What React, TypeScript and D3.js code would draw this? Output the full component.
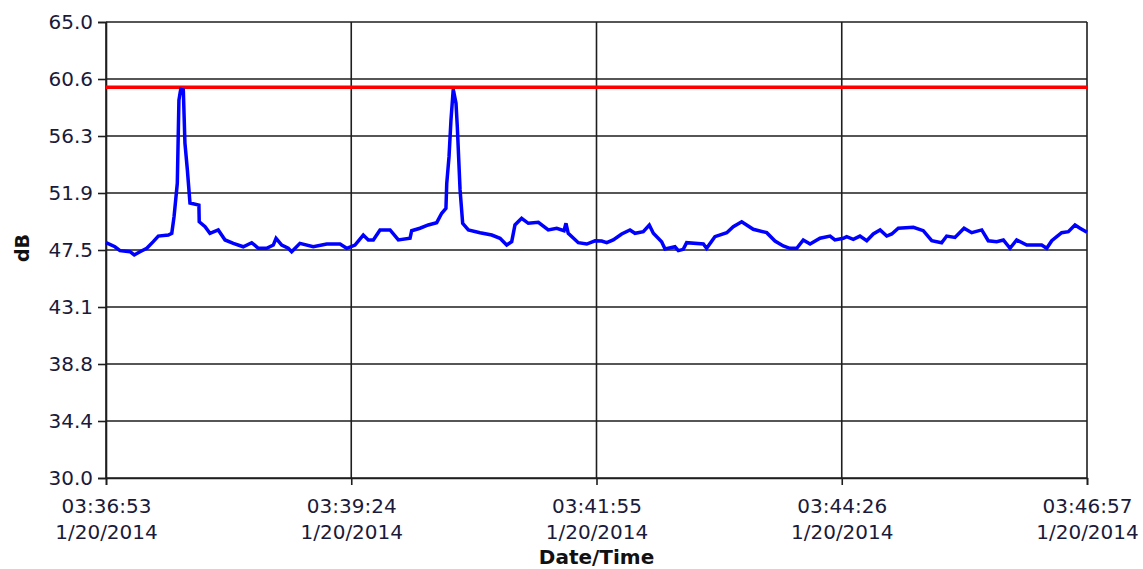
import React, { useRef, useEffect } from 'react';
import * as d3 from 'd3';

const seconds = [0, 5.5, 8.6, 14.8, 17.4, 20.9, 25.1, 29.1, 32.2, 38.4, 40.5, 41.9, 43.9, 44.9, 46.0, 47.6, 48.6, 50.1, 51.7, 57.2,
    57.4, 61.0, 64.0, 69.1, 73.3, 78.4, 84.5, 89.7, 93.8, 98.9, 103.0, 104.7, 108.2, 112.2, 114.3, 119.4, 127.6, 135.9, 144.1, 148.2,
    153.3, 158.4, 161.5, 164.6, 168.7, 174.9, 180.0, 187.2, 188.2, 193.3, 198.4, 203.6, 206.7, 209.3, 209.8, 211.2, 212.4, 213.8, 215.5, 216.3,
    218.0, 219.6, 223.1, 230.3, 237.5, 242.6, 246.7, 249.8, 251.8, 255.9, 260.0, 266.2, 272.3, 277.5, 282.0, 283.2, 284.6, 290.8, 296.0, 301.1,
    305.2, 308.3, 312.3, 317.5, 322.6, 325.7, 330.8, 334.5, 337.0, 342.1, 344.2, 350.3, 352.4, 355.4, 357.5, 367.8, 369.8, 374.9, 382.2, 386.2,
    391.4, 398.5, 406.8, 411.9, 417.0, 421.1, 425.3, 429.3, 433.5, 439.6, 445.8, 448.8, 454.0, 456.0, 460.1, 464.2, 468.4, 472.4, 476.6, 480.7,
    483.8, 487.8, 497.1, 503.2, 508.4, 514.5, 517.6, 522.7, 528.3, 533.0, 539.2, 543.2, 548.4, 552.5, 556.6, 560.7, 566.9, 576.1, 579.2, 582.3,
    588.4, 592.5, 596.6, 599.7, 604];
const levels = [48.06, 47.75, 47.45, 47.37, 47.12, 47.37, 47.63, 48.14, 48.57, 48.65, 48.78, 50.06, 52.62, 59.01, 59.84, 59.78, 55.71, 53.64, 51.11, 50.95,
    49.67, 49.29, 48.78, 49.04, 48.27, 48.01, 47.75, 48.06, 47.63, 47.63, 47.88, 48.40, 47.88, 47.63, 47.37, 48.01, 47.75, 47.96, 47.96, 47.63,
    47.88, 48.65, 48.27, 48.27, 49.04, 49.04, 48.27, 48.40, 48.98, 49.17, 49.42, 49.60, 50.32, 50.70, 52.62, 54.66, 57.48, 59.84, 58.76, 56.96,
    52.11, 49.55, 49.04, 48.83, 48.65, 48.40, 47.88, 48.14, 49.42, 49.93, 49.55, 49.63, 49.04, 49.17, 48.98, 49.55, 48.78, 48.06, 47.96, 48.21,
    48.19, 48.06, 48.27, 48.73, 49.04, 48.78, 48.91, 49.42, 48.78, 48.14, 47.58, 47.75, 47.45, 47.55, 48.06, 47.96, 47.63, 48.52, 48.83, 49.29,
    49.67, 49.09, 48.83, 48.19, 47.81, 47.63, 47.63, 48.27, 47.96, 48.40, 48.57, 48.27, 48.40, 48.52, 48.32, 48.57, 48.21, 48.73, 49.04, 48.57,
    48.73, 49.17, 49.24, 48.98, 48.21, 48.06, 48.57, 48.47, 49.17, 48.83, 49.04, 48.21, 48.14, 48.27, 47.63, 48.27, 47.88, 47.88, 47.63, 48.21,
    48.83, 48.91, 49.42, 49.17, 48.86];

const limitLevel = 60.0;
const yTicks = [30.0, 34.375, 38.75, 43.125, 47.5, 51.875, 56.25, 60.625, 65.0];
const tickStepSeconds = 151;
const tickCount = 5;
const startTime = new Date(2014, 0, 20, 3, 36, 53);

const W = 1143, H = 569;
const margin = { top: 22, right: 56, bottom: 91, left: 106 };
const font = '"DejaVu Sans", Verdana, sans-serif';

const App = () => {
    const ref = useRef(null);
    const width = W - margin.left - margin.right;
    const height = H - margin.top - margin.bottom;

    useEffect(() => {
        const g = d3.select(ref.current);
        g.selectAll('*').remove();

        const xTicks = d3.range(tickCount).map(i => new Date(startTime.getTime() + i * tickStepSeconds * 1000));
        const xScale = d3.scaleTime()
            .domain([xTicks[0], xTicks[xTicks.length - 1]])
            .range([0, width]);
        const yScale = d3.scaleLinear()
            .domain([30, 65])
            .range([height, 0]);

        const data = seconds.map((s, i) => ({ t: new Date(startTime.getTime() + s * 1000), v: levels[i] }));

        // grid
        g.append('g').selectAll('line.h')
            .data(yTicks)
            .enter().append('line')
            .attr('x1', 0).attr('x2', width)
            .attr('y1', d => yScale(d)).attr('y2', d => yScale(d))
            .attr('stroke', '#1e1e1e').attr('stroke-width', 1.6);
        g.append('g').selectAll('line.v')
            .data(xTicks)
            .enter().append('line')
            .attr('x1', d => xScale(d)).attr('x2', d => xScale(d))
            .attr('y1', 0).attr('y2', height)
            .attr('stroke', '#1e1e1e').attr('stroke-width', 1.6);

        // axes
        const fmtTime = d3.timeFormat('%H:%M:%S');
        const fmtDate = d3.timeFormat('%-m/%d/%Y');
        const xAxis = g.append('g')
            .attr('transform', 'translate(0,' + height + ')')
            .call(d3.axisBottom(xScale).tickValues(xTicks).tickSize(7).tickPadding(17).tickFormat(() => ''));
        xAxis.selectAll('.tick text').each(function (d) {
            const t = d3.select(this);
            t.append('tspan').attr('x', 0).attr('dy', '0.55em').text(fmtTime(d));
            t.append('tspan').attr('x', 0).attr('dy', '1.32em').text(fmtDate(d));
        });
        const yAxis = g.append('g')
            .call(d3.axisLeft(yScale).tickValues(yTicks).tickSize(8).tickPadding(5).tickFormat(d3.format('.1f')));
        [xAxis, yAxis].forEach(a => {
            a.select('.domain').attr('stroke', '#1e1e1e').attr('stroke-width', 1.6);
            a.selectAll('.tick line').attr('stroke', '#1e1e1e').attr('stroke-width', 1.6);
            a.selectAll('.tick text').attr('fill', '#1a1a3a').style('font-family', font).style('font-size', '20px');
        });

        // limit line
        g.append('line')
            .attr('x1', 0).attr('x2', width)
            .attr('y1', yScale(limitLevel)).attr('y2', yScale(limitLevel))
            .attr('stroke', '#ff0000').attr('stroke-width', 3.5);

        // level trace
        const line = d3.line()
            .x(d => xScale(d.t))
            .y(d => yScale(d.v));
        g.append('path')
            .datum(data)
            .attr('d', line)
            .attr('fill', 'none')
            .attr('stroke', '#0000ff')
            .attr('stroke-width', 3.5)
            .attr('stroke-linejoin', 'miter');

        // axis titles
        g.append('text')
            .attr('transform', 'rotate(-90)')
            .attr('x', -height / 2 + 2)
            .attr('y', -77)
            .attr('text-anchor', 'middle')
            .style('font-family', font).style('font-size', '19px').style('font-weight', 'bold')
            .attr('fill', '#111')
            .text('dB');
        g.append('text')
            .attr('x', width / 2)
            .attr('y', height + 86)
            .attr('text-anchor', 'middle')
            .style('font-family', font).style('font-size', '20px').style('font-weight', 'bold')
            .attr('fill', '#111')
            .text('Date/Time');
    }, []);

    return (
        <div style={{ position: 'absolute', left: 0, top: 0 }}>
            <svg width={W} height={H} style={{ display: 'block', background: '#fff' }}>
                <g ref={ref} transform={`translate(${margin.left}, ${margin.top})`}></g>
            </svg>
        </div>
    );
};

export default App;
